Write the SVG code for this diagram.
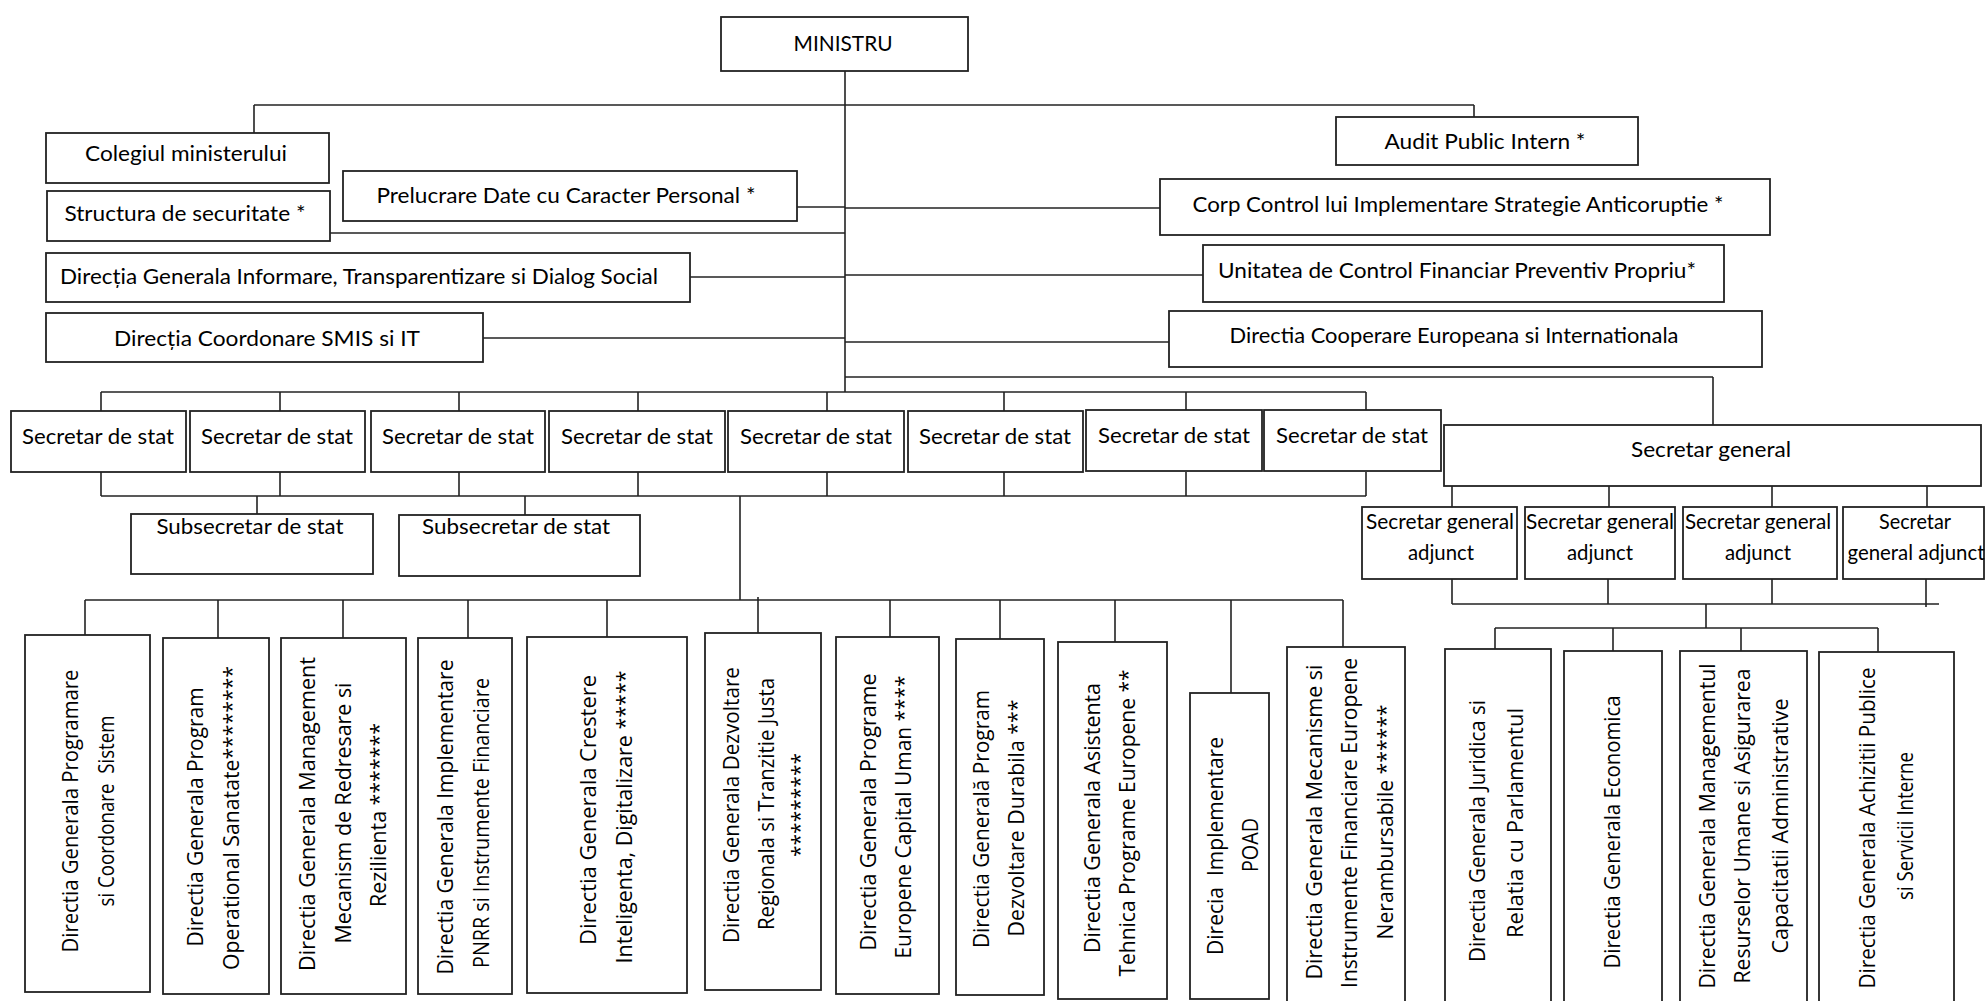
<svg xmlns="http://www.w3.org/2000/svg" width="1985" height="1001" viewBox="0 0 1985 1001">
<style>
.b{fill:#fff;stroke:#222;stroke-width:1.8}
.c line{stroke:#222;stroke-width:1.6}
.h{font-family:Lato,"Liberation Sans",sans-serif;font-size:21px;fill:#000;text-anchor:middle}
.v{font-family:"Open Sans","DejaVu Sans",sans-serif;font-size:21px;fill:#000;text-anchor:middle}
.p{white-space:pre}
</style>
<rect width="1985" height="1001" fill="#fff"/>
<g id="connectors" class="c">
<line x1="845" y1="71" x2="845" y2="392"/>
<line x1="254" y1="105" x2="1474" y2="105"/>
<line x1="254" y1="105" x2="254" y2="133"/>
<line x1="1474" y1="105" x2="1474" y2="117"/>
<line x1="797" y1="207" x2="845" y2="207"/>
<line x1="330" y1="233" x2="845" y2="233"/>
<line x1="690" y1="277" x2="845" y2="277"/>
<line x1="483" y1="338" x2="845" y2="338"/>
<line x1="845" y1="208" x2="1160" y2="208"/>
<line x1="845" y1="275" x2="1203" y2="275"/>
<line x1="845" y1="342" x2="1169" y2="342"/>
<line x1="845" y1="377" x2="1713" y2="377"/>
<line x1="1713" y1="377" x2="1713" y2="425"/>
<line x1="101" y1="392" x2="1366" y2="392"/>
<line x1="101" y1="392" x2="101" y2="411"/>
<line x1="280" y1="392" x2="280" y2="411"/>
<line x1="459" y1="392" x2="459" y2="411"/>
<line x1="638" y1="392" x2="638" y2="411"/>
<line x1="827" y1="392" x2="827" y2="411"/>
<line x1="1004" y1="392" x2="1004" y2="411"/>
<line x1="1186" y1="392" x2="1186" y2="411"/>
<line x1="1366" y1="392" x2="1366" y2="411"/>
<line x1="101" y1="496" x2="1366" y2="496"/>
<line x1="101" y1="472" x2="101" y2="496"/>
<line x1="280" y1="472" x2="280" y2="496"/>
<line x1="459" y1="472" x2="459" y2="496"/>
<line x1="638" y1="472" x2="638" y2="496"/>
<line x1="827" y1="472" x2="827" y2="496"/>
<line x1="1004" y1="472" x2="1004" y2="496"/>
<line x1="1186" y1="472" x2="1186" y2="496"/>
<line x1="1366" y1="472" x2="1366" y2="496"/>
<line x1="257" y1="496" x2="257" y2="514"/>
<line x1="525" y1="496" x2="525" y2="515"/>
<line x1="740" y1="496" x2="740" y2="600"/>
<line x1="85" y1="600" x2="1343" y2="600"/>
<line x1="85" y1="600" x2="85" y2="635"/>
<line x1="218" y1="600" x2="218" y2="638"/>
<line x1="343" y1="600" x2="343" y2="638"/>
<line x1="468" y1="600" x2="468" y2="638"/>
<line x1="607" y1="600" x2="607" y2="637"/>
<line x1="758" y1="597" x2="758" y2="633"/>
<line x1="890" y1="600" x2="890" y2="637"/>
<line x1="1000" y1="600" x2="1000" y2="639"/>
<line x1="1115" y1="600" x2="1115" y2="642"/>
<line x1="1231" y1="600" x2="1231" y2="693"/>
<line x1="1343" y1="600" x2="1343" y2="647"/>
<line x1="1452" y1="486" x2="1452" y2="507"/>
<line x1="1609" y1="486" x2="1609" y2="507"/>
<line x1="1772" y1="486" x2="1772" y2="507"/>
<line x1="1927" y1="486" x2="1927" y2="507"/>
<line x1="1452" y1="579" x2="1452" y2="604"/>
<line x1="1608" y1="579" x2="1608" y2="604"/>
<line x1="1772" y1="579" x2="1772" y2="604"/>
<line x1="1926" y1="579" x2="1926" y2="607"/>
<line x1="1452" y1="604" x2="1939" y2="604"/>
<line x1="1706" y1="604" x2="1706" y2="628"/>
<line x1="1495" y1="628" x2="1878" y2="628"/>
<line x1="1495" y1="628" x2="1495" y2="649"/>
<line x1="1613" y1="628" x2="1613" y2="651"/>
<line x1="1741" y1="628" x2="1741" y2="651"/>
<line x1="1878" y1="628" x2="1878" y2="652"/>
</g>
<g id="ministru"><rect class="b" x="721" y="17" width="247" height="54"/><text class="h" x="843" y="51" textLength="99" lengthAdjust="spacingAndGlyphs">MINISTRU</text></g>
<g id="colegiul"><rect class="b" x="46" y="133" width="283" height="50"/><text class="h" x="186" y="161" textLength="202" lengthAdjust="spacingAndGlyphs">Colegiul ministerului</text></g>
<g id="structura"><rect class="b" x="47" y="191" width="283" height="50"/><text class="h" x="185" y="221" textLength="241" lengthAdjust="spacingAndGlyphs">Structura de securitate *</text></g>
<g id="prelucrare"><rect class="b" x="343" y="171" width="454" height="50"/><text class="h" x="566" y="203" textLength="379" lengthAdjust="spacingAndGlyphs">Prelucrare Date cu Caracter Personal *</text></g>
<g id="dgi"><rect class="b" x="46" y="253" width="644" height="49"/><text class="h" x="359" y="284" textLength="598" lengthAdjust="spacingAndGlyphs">Direcția Generala Informare, Transparentizare si Dialog Social</text></g>
<g id="smis"><rect class="b" x="46" y="313" width="437" height="49"/><text class="h" x="267" y="346" textLength="306" lengthAdjust="spacingAndGlyphs">Direcția Coordonare SMIS si IT</text></g>
<g id="audit"><rect class="b" x="1336" y="117" width="302" height="48"/><text class="h" x="1485" y="149" textLength="201" lengthAdjust="spacingAndGlyphs">Audit Public Intern *</text></g>
<g id="corp"><rect class="b" x="1160" y="179" width="610" height="56"/><text class="h" x="1458" y="212" textLength="531" lengthAdjust="spacingAndGlyphs">Corp Control lui Implementare Strategie Anticoruptie *</text></g>
<g id="unitatea"><rect class="b" x="1203" y="245" width="521" height="57"/><text class="h" x="1457" y="278" textLength="478" lengthAdjust="spacingAndGlyphs">Unitatea de Control Financiar Preventiv Propriu*</text></g>
<g id="cooperare"><rect class="b" x="1169" y="311" width="593" height="56"/><text class="h" x="1454" y="343" textLength="449" lengthAdjust="spacingAndGlyphs">Directia Cooperare Europeana si Internationala</text></g>
<g id="ss1"><rect class="b" x="11" y="411" width="175" height="61"/><text class="h" x="98" y="444" textLength="152" lengthAdjust="spacingAndGlyphs">Secretar de stat</text></g>
<g id="ss2"><rect class="b" x="190" y="411" width="175" height="61"/><text class="h" x="277" y="444" textLength="152" lengthAdjust="spacingAndGlyphs">Secretar de stat</text></g>
<g id="ss3"><rect class="b" x="371" y="411" width="174" height="61"/><text class="h" x="458" y="444" textLength="152" lengthAdjust="spacingAndGlyphs">Secretar de stat</text></g>
<g id="ss4"><rect class="b" x="549" y="411" width="176" height="61"/><text class="h" x="637" y="444" textLength="152" lengthAdjust="spacingAndGlyphs">Secretar de stat</text></g>
<g id="ss5"><rect class="b" x="728" y="411" width="176" height="61"/><text class="h" x="816" y="444" textLength="152" lengthAdjust="spacingAndGlyphs">Secretar de stat</text></g>
<g id="ss6"><rect class="b" x="908" y="411" width="175" height="61"/><text class="h" x="995" y="444" textLength="152" lengthAdjust="spacingAndGlyphs">Secretar de stat</text></g>
<g id="ss7"><rect class="b" x="1086" y="410" width="176" height="61"/><text class="h" x="1174" y="443" textLength="152" lengthAdjust="spacingAndGlyphs">Secretar de stat</text></g>
<g id="ss8"><rect class="b" x="1264" y="410" width="177" height="61"/><text class="h" x="1352" y="443" textLength="152" lengthAdjust="spacingAndGlyphs">Secretar de stat</text></g>
<g id="sg"><rect class="b" x="1444" y="425" width="537" height="61"/><text class="h" x="1711" y="457" textLength="160" lengthAdjust="spacingAndGlyphs">Secretar general</text></g>
<g id="sga1"><rect class="b" x="1362" y="507" width="155" height="72"/><text class="h" x="1440" y="529" textLength="148" lengthAdjust="spacingAndGlyphs">Secretar general</text><text class="h" x="1441" y="560" textLength="66" lengthAdjust="spacingAndGlyphs">adjunct</text></g>
<g id="sga2"><rect class="b" x="1525" y="507" width="150" height="72"/><text class="h" x="1600" y="529" textLength="148" lengthAdjust="spacingAndGlyphs">Secretar general</text><text class="h" x="1600" y="560" textLength="66" lengthAdjust="spacingAndGlyphs">adjunct</text></g>
<g id="sga3"><rect class="b" x="1683" y="507" width="154" height="72"/><text class="h" x="1758" y="529" textLength="146" lengthAdjust="spacingAndGlyphs">Secretar general</text><text class="h" x="1758" y="560" textLength="66" lengthAdjust="spacingAndGlyphs">adjunct</text></g>
<g id="sga4"><rect class="b" x="1843" y="507" width="141" height="72"/><text class="h" x="1915" y="529" textLength="72" lengthAdjust="spacingAndGlyphs">Secretar</text><text class="h" x="1916" y="560" textLength="137" lengthAdjust="spacingAndGlyphs">general adjunct</text></g>
<g id="sub1"><rect class="b" x="131" y="514" width="242" height="60"/><text class="h" x="250" y="534" textLength="187" lengthAdjust="spacingAndGlyphs">Subsecretar de stat</text></g>
<g id="sub2"><rect class="b" x="399" y="515" width="241" height="61"/><text class="h" x="516" y="534" textLength="188" lengthAdjust="spacingAndGlyphs">Subsecretar de stat</text></g>
<g id="b1"><rect class="b" x="25" y="635" width="125" height="357"/><text class="v" transform="translate(78,811) rotate(-90)" textLength="283" lengthAdjust="spacingAndGlyphs">Directia Generala Programare</text><text class="v p" transform="translate(114,811) rotate(-90)" textLength="191" lengthAdjust="spacingAndGlyphs">si Coordonare  Sistem</text></g>
<g id="b2"><rect class="b" x="163" y="638" width="106" height="356"/><text class="v" transform="translate(203,817) rotate(-90)" textLength="259" lengthAdjust="spacingAndGlyphs">Directia Generala Program</text><text class="v" transform="translate(239,818) rotate(-90)" textLength="304" lengthAdjust="spacingAndGlyphs">Operational Sanatate********</text></g>
<g id="b3"><rect class="b" x="281" y="638" width="125" height="356"/><text class="v" transform="translate(315,814) rotate(-90)" textLength="314" lengthAdjust="spacingAndGlyphs">Directia Generala Management</text><text class="v" transform="translate(351,813) rotate(-90)" textLength="261" lengthAdjust="spacingAndGlyphs">Mecanism de Redresare si</text><text class="v" transform="translate(386,815) rotate(-90)" textLength="184" lengthAdjust="spacingAndGlyphs">Rezilienta *******</text></g>
<g id="b4"><rect class="b" x="418" y="638" width="94" height="356"/><text class="v" transform="translate(453,817) rotate(-90)" textLength="315" lengthAdjust="spacingAndGlyphs">Directia Generala Implementare</text><text class="v" transform="translate(489,823) rotate(-90)" textLength="290" lengthAdjust="spacingAndGlyphs">PNRR si Instrumente Financiare</text></g>
<g id="b5"><rect class="b" x="527" y="637" width="160" height="356"/><text class="v" transform="translate(596,810) rotate(-90)" textLength="270" lengthAdjust="spacingAndGlyphs">Directia Generala Crestere</text><text class="v" transform="translate(632,817) rotate(-90)" textLength="293" lengthAdjust="spacingAndGlyphs">Inteligenta, Digitalizare *****</text></g>
<g id="b6"><rect class="b" x="705" y="633" width="116" height="357"/><text class="v" transform="translate(739,805) rotate(-90)" textLength="276" lengthAdjust="spacingAndGlyphs">Directia Generala Dezvoltare</text><text class="v" transform="translate(774,804) rotate(-90)" textLength="252" lengthAdjust="spacingAndGlyphs">Regionala si Tranzitie Justa</text><text class="v" transform="translate(807,805) rotate(-90)" textLength="104" lengthAdjust="spacingAndGlyphs">*********</text></g>
<g id="b7"><rect class="b" x="836" y="637" width="103" height="357"/><text class="v" transform="translate(876,812) rotate(-90)" textLength="277" lengthAdjust="spacingAndGlyphs">Directia Generala Programe</text><text class="v" transform="translate(911,817) rotate(-90)" textLength="283" lengthAdjust="spacingAndGlyphs">Europene Capital Uman ****</text></g>
<g id="b8"><rect class="b" x="956" y="639" width="88" height="356"/><text class="v" transform="translate(989,819) rotate(-90)" textLength="258" lengthAdjust="spacingAndGlyphs">Directia Generală Program</text><text class="v" transform="translate(1024,818) rotate(-90)" textLength="237" lengthAdjust="spacingAndGlyphs">Dezvoltare Durabila ***</text></g>
<g id="b9"><rect class="b" x="1058" y="642" width="109" height="357"/><text class="v" transform="translate(1100,818) rotate(-90)" textLength="270" lengthAdjust="spacingAndGlyphs">Directia Generala Asistenta</text><text class="v" transform="translate(1135,823) rotate(-90)" textLength="307" lengthAdjust="spacingAndGlyphs">Tehnica Programe Europene **</text></g>
<g id="b10"><rect class="b" x="1190" y="693" width="79" height="306"/><text class="v p" transform="translate(1223,846) rotate(-90)" textLength="218" lengthAdjust="spacingAndGlyphs">Direcia  Implementare</text><text class="v" transform="translate(1258,845) rotate(-90)" textLength="54" lengthAdjust="spacingAndGlyphs">POAD</text></g>
<g id="b11"><rect class="b" x="1287" y="647" width="118" height="370"/><text class="v" transform="translate(1322,822) rotate(-90)" textLength="315" lengthAdjust="spacingAndGlyphs">Directia Generala Mecanisme si</text><text class="v" transform="translate(1357,823) rotate(-90)" textLength="330" lengthAdjust="spacingAndGlyphs">Instrumente Financiare Europene</text><text class="v" transform="translate(1393,822) rotate(-90)" textLength="235" lengthAdjust="spacingAndGlyphs">Nerambursabile ******</text></g>
<g id="r1"><rect class="b" x="1445" y="649" width="106" height="370"/><text class="v" transform="translate(1485,831) rotate(-90)" textLength="262" lengthAdjust="spacingAndGlyphs">Directia Generala Juridica si</text><text class="v" transform="translate(1523,823) rotate(-90)" textLength="230" lengthAdjust="spacingAndGlyphs">Relatia cu Parlamentul</text></g>
<g id="r2"><rect class="b" x="1564" y="651" width="98" height="370"/><text class="v" transform="translate(1620,832) rotate(-90)" textLength="273" lengthAdjust="spacingAndGlyphs">Directia Generala Economica</text></g>
<g id="r3"><rect class="b" x="1680" y="651" width="127" height="370"/><text class="v" transform="translate(1715,826) rotate(-90)" textLength="325" lengthAdjust="spacingAndGlyphs">Directia Generala Managementul</text><text class="v" transform="translate(1750,826) rotate(-90)" textLength="315" lengthAdjust="spacingAndGlyphs">Resurselor Umane si Asigurarea</text><text class="v" transform="translate(1788,826) rotate(-90)" textLength="255" lengthAdjust="spacingAndGlyphs">Capacitatii Administrative</text></g>
<g id="r4"><rect class="b" x="1819" y="652" width="135" height="370"/><text class="v" transform="translate(1875,828) rotate(-90)" textLength="321" lengthAdjust="spacingAndGlyphs">Directia Generala Achizitii Publice</text><text class="v" transform="translate(1913,826) rotate(-90)" textLength="148" lengthAdjust="spacingAndGlyphs">si Servicii Interne</text></g>
</svg>
